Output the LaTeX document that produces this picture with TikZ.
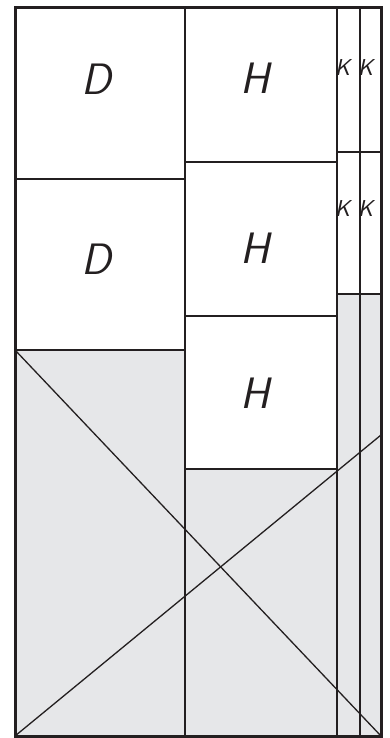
\documentclass[tikz,border=0pt]{standalone}
\usepackage{tikz}
\definecolor{ink}{HTML}{231F20}
\definecolor{panelgray}{HTML}{E6E7E9}
\begin{document}
\begin{tikzpicture}[x=1pt,y=-1pt,
  thin line/.style={draw=ink,line width=1.3pt},
  frame line/.style={draw=ink,line width=3pt},
  big letter/.style={font=\fontsize{44}{44}\selectfont\sffamily\slshape,text=ink,inner sep=0pt},
  small letter/.style={font=\fontsize{23}{23}\selectfont\sffamily\slshape,text=ink,inner sep=0pt,anchor=west}]
\useasboundingbox (0,0) rectangle (390,738);
% shaded regions
\fill[panelgray] (15,350) rectangle (185,736);
\fill[panelgray] (185,469) rectangle (337,736);
\fill[panelgray] (337,294) rectangle (381,736);
% named corners
\coordinate (gtl) at (15,350);
\coordinate (bl) at (15,736);
\coordinate (br) at (381,736);
\coordinate (rmid) at (381,435);
% column lines
\draw[thin line] (185,8) -- (185,736);
\draw[thin line] (337,8) -- (337,736);
\draw[thin line] (360,8) -- (360,736);
% row lines
\draw[thin line] (15,179) -- (185,179);
\draw[thin line] (15,350) -- (185,350);
\draw[thin line] (185,162) -- (337,162);
\draw[thin line] (185,316) -- (337,316);
\draw[thin line] (185,469) -- (337,469);
\draw[thin line] (337,152) -- (381,152);
\draw[thin line] (337,294) -- (381,294);
% diagonals
\draw[thin line] (gtl) -- (br);
\draw[thin line] (bl) -- (rmid);
% frame
\draw[frame line] (15,8) rectangle (381,736);
% labels
\node[big letter] (d1) at (96,79) {D};
\node[big letter] (d2) at (96,259) {D};
\node[big letter] (h1) at (255,78) {H};
\node[big letter] (h2) at (255,248) {H};
\node[big letter] (h3) at (255,393) {H};
\node[small letter] (k1) at (335,68) {K};
\node[small letter] (k2) at (358,68) {K};
\node[small letter] (k3) at (335,209) {K};
\node[small letter] (k4) at (358,209) {K};
\end{tikzpicture}
\end{document}
